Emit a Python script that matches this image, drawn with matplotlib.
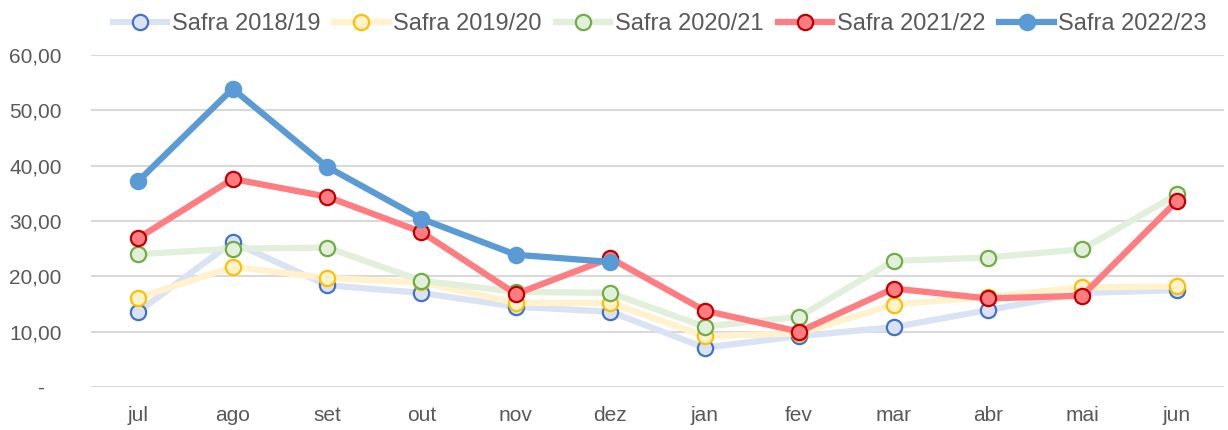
import matplotlib.pyplot as plt
from matplotlib.ticker import FuncFormatter

meses = ['jul', 'ago', 'set', 'out', 'nov', 'dez', 'jan', 'fev', 'mar', 'abr', 'mai', 'jun']

safra_1819 = [13.6, 26.2, 18.4, 17.0, 14.5, 13.6, 7.1, 9.2, 10.8, 13.9, 17.0, 17.5]
safra_1920 = [16.1, 21.7, 19.7, 18.9, 15.2, 15.2, 9.2, 9.7, 14.9, 16.3, 18.0, 18.2]
safra_2021 = [24.0, 25.0, 25.2, 19.2, 17.2, 17.0, 10.9, 12.7, 22.8, 23.4, 24.9, 34.8]
safra_2122 = [26.9, 37.6, 34.4, 28.0, 16.8, 23.3, 13.8, 10.0, 17.8, 16.0, 16.5, 33.6]
safra_2223 = [37.2, 53.9, 39.8, 30.4, 23.9, 22.6]

plt.rcParams['font.family'] = ['Liberation Sans', 'DejaVu Sans']

fig = plt.figure(figsize=(12.28, 4.30), dpi=100)
ax = fig.add_axes([91 / 1228, 1 - 387 / 430, (1224 - 91) / 1228, (387 - 55) / 430])

x = list(range(len(meses)))
lw = 4.5
ms = 11
mew = 1.6

ax.plot(x, safra_1819, color='#DAE3F3', lw=lw, marker='o', ms=ms,
        mfc='#DAE3F3', mec='#4472C4', mew=mew, label='Safra 2018/19', zorder=3)
ax.plot(x, safra_1920, color='#FFF2CC', lw=lw, marker='o', ms=ms,
        mfc='#FFF2CC', mec='#FFC000', mew=mew, label='Safra 2019/20', zorder=4)
ax.plot(x, safra_2021, color='#E2EFDA', lw=lw, marker='o', ms=ms,
        mfc='#E2EFDA', mec='#70AD47', mew=mew, label='Safra 2020/21', zorder=5)
ax.plot(x, safra_2122, color='#FF7C80', lw=lw, marker='o', ms=ms,
        mfc='#FF7C80', mec='#C00000', mew=mew, label='Safra 2021/22', zorder=6)
ax.plot(x[:len(safra_2223)], safra_2223, color='#5B9BD5', lw=lw, marker='o', ms=ms,
        mfc='#5B9BD5', mec='#5B9BD5', mew=mew, label='Safra 2022/23', zorder=7)

ax.set_xlim(-0.5, 11.5)
ax.set_ylim(0, 60)
ax.set_yticks(range(0, 61, 10))
# formato contabil: zero vira traco
ax.yaxis.set_major_formatter(FuncFormatter(
    lambda v, p: '-   ' if v == 0 else ('%.2f' % v).replace('.', ',')))
ax.set_xticks(x)
ax.set_xticklabels(meses)

ax.grid(axis='y', color='#D9D9D9', lw=1.5)
ax.set_axisbelow(True)
for s in ax.spines.values():
    s.set_visible(False)
ax.tick_params(length=0, labelsize=15, colors='#595959')
ax.tick_params(axis='x', pad=14)
ax.tick_params(axis='y', pad=21)

ax.legend(loc='upper center', bbox_to_anchor=(0.502, 1.155), ncol=5, frameon=False,
          fontsize=17, labelcolor='#595959', handlelength=2.3, handletextpad=0.2,
          columnspacing=0.6, borderaxespad=0)

fig.savefig('out.png', dpi=100)
